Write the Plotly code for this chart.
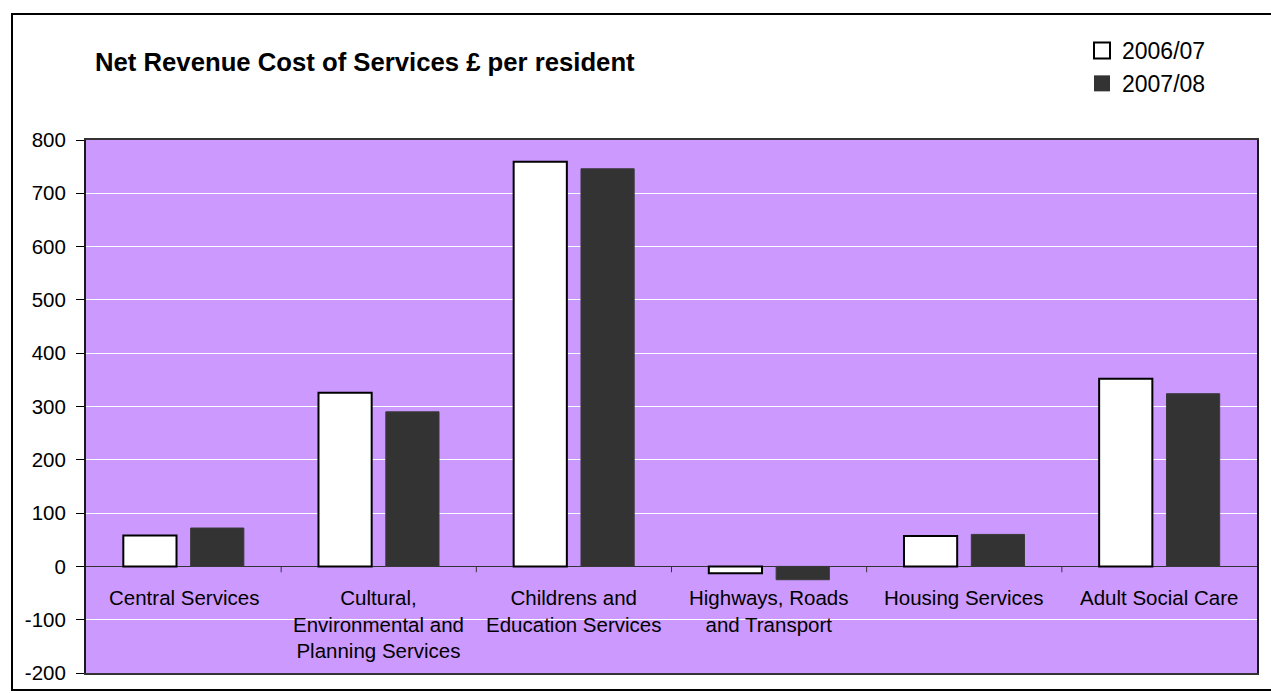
import plotly.graph_objects as go

categories = ["Central Services",
              "Cultural,<br>Environmental and<br>Planning Services",
              "Childrens and<br>Education Services",
              "Highways, Roads<br>and Transport",
              "Housing Services",
              "Adult Social Care"]
values_2006 = [58, 326, 759, -13, 57, 352]
values_2007 = [72, 290, 746, -25, 60, 324]
series_names = ["2006/07", "2007/08"]
series_fill = ["#FFFFFF", "#333333"]
series_edge = ["#000000", "#3a3a3a"]
title_text = "Net Revenue Cost of Services £ per resident"
y_ticks = list(range(-200, 801, 100))
y_tick_text = [str(v) for v in y_ticks]

W, H = 1271, 693
ML, MR, MT, MB = 86, 14, 140, 20
PW = W - ML - MR
PH = H - MT - MB

FONT = "Liberation Sans, Arial, sans-serif"

fig = go.Figure()
for name, vals, fill, edge, lw in zip(series_names, [values_2006, values_2007],
                                      series_fill, series_edge, [2, 1]):
    fig.add_trace(go.Bar(x=categories, y=vals, name=name, showlegend=False,
                         marker=dict(color=fill, line=dict(color=edge, width=lw))))
# legend entries with larger square swatches
for name, fill, edge, lw in zip(series_names, series_fill, series_edge, [2, 0]):
    fig.add_trace(go.Scatter(x=[None], y=[None], mode="markers", name=name,
                             marker=dict(symbol="square", size=16, color=fill,
                                         line=dict(color=edge, width=lw))))

# category labels inside plot, below the zero line
for c in categories:
    fig.add_annotation(x=c, y=0, xref="x", yref="y", text=c, showarrow=False,
                       yanchor="top", yshift=-18,
                       font=dict(family=FONT, size=20.5, color="#000000"))

# category divider ticks at zero line
shapes = []
for i in range(len(categories) - 1):
    shapes.append(dict(type="line", xref="x", yref="y", x0=i + 0.5, x1=i + 0.5,
                       y0=0, y1=-11, line=dict(color="#333333", width=1)))

def px2paper_x(px):
    return (px - ML) / PW
def px2paper_y(py):
    return 1 - (py - MT) / PH

# outer chart border (right side lies beyond the cropped picture)
shapes.append(dict(type="rect", xref="paper", yref="paper",
                   x0=px2paper_x(12), x1=px2paper_x(1280),
                   y0=px2paper_y(690), y1=px2paper_y(14),
                   line=dict(color="#000000", width=2), layer="below"))

fig.update_layout(
    width=W, height=H,
    margin=dict(l=ML, r=MR, t=MT, b=MB, autoexpand=False),
    paper_bgcolor="#FFFFFF", plot_bgcolor="#CC99FF",
    barmode="group", bargap=0.31, bargroupgap=0.21,
    font=dict(family=FONT, size=20, color="#000000"),
    title=dict(text="<b>" + title_text + "</b>", xref="container", yref="container",
               x=95 / W, xanchor="left", y=1 - 62 / H, yanchor="middle",
               font=dict(family=FONT, size=25.7, color="#000000")),
    legend=dict(x=px2paper_x(1082), xanchor="left", y=px2paper_y(29), yanchor="top",
                font=dict(family=FONT, size=23, color="#000000"),
                bgcolor="rgba(0,0,0,0)", borderwidth=0, traceorder="normal"),
    shapes=shapes,
    showlegend=True,
)
fig.update_xaxes(showticklabels=False, ticks="", showgrid=False,
                 showline=True, linecolor="#333333", linewidth=2, mirror=True,
                 range=[-0.5, len(categories) - 0.5])
fig.update_yaxes(range=[-200, 800], tickvals=y_ticks, ticktext=y_tick_text,
                 ticks="outside", ticklen=8,
                 tickcolor="#000000", tickwidth=1,
                 showgrid=True, gridcolor="#FFFFFF", gridwidth=1,
                 zeroline=True, zerolinecolor="#333333", zerolinewidth=1,
                 showline=True, linecolor="#1a1a1a", linewidth=2, mirror=True,
                 tickfont=dict(family=FONT, size=20.5, color="#000000"),
                 ticklabelstandoff=6)

fig.write_html("out.html")
